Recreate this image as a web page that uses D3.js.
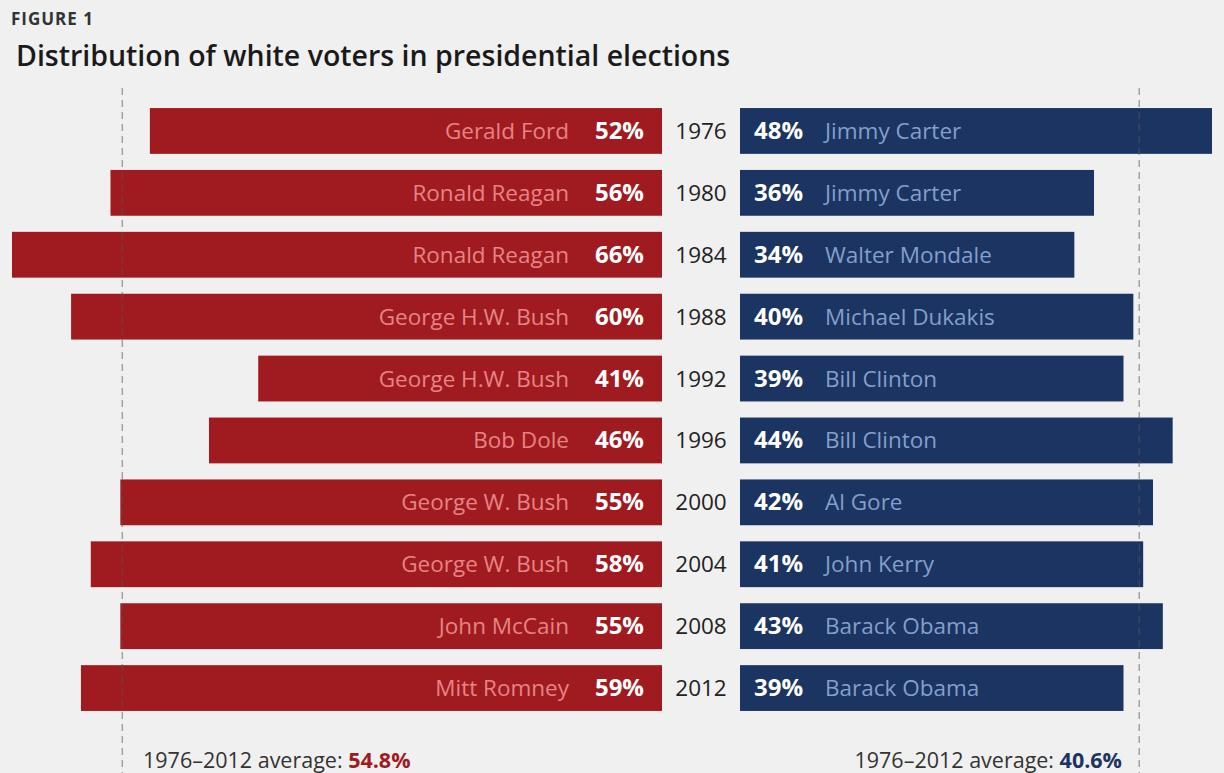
<!DOCTYPE html>
<html>
<head>
<meta charset="utf-8">
<script src="https://cdn.jsdelivr.net/npm/d3@7"></script>
<style>
  body { margin: 0; background: #f0f0f0; }
  svg { display: block; font-family: "Open Sans", "Noto Sans", sans-serif; }
</style>
</head>
<body>
<div id="chart"></div>
<script>
// election data (share of white vote)
const years = [1976, 1980, 1984, 1988, 1992, 1996, 2000, 2004, 2008, 2012];
const repNames = ["Gerald Ford", "Ronald Reagan", "Ronald Reagan", "George H.W. Bush", "George H.W. Bush",
                  "Bob Dole", "George W. Bush", "George W. Bush", "John McCain", "Mitt Romney"];
const repShare = [52, 56, 66, 60, 41, 46, 55, 58, 55, 59];
const demNames = ["Jimmy Carter", "Jimmy Carter", "Walter Mondale", "Michael Dukakis", "Bill Clinton",
                  "Bill Clinton", "Al Gore", "John Kerry", "Barack Obama", "Barack Obama"];
const demShare = [48, 36, 34, 40, 39, 44, 42, 41, 43, 39];
const repAvg = 54.8;
const demAvg = 40.6;

const width = 1224, height = 773;
const red = "#a01b1f", blue = "#1b3462";

const svg = d3.select("#chart").append("svg")
    .attr("width", width)
    .attr("height", height);

svg.append("rect").attr("width", width).attr("height", height).attr("fill", "#f0f0f0");

// titles
svg.append("text")
    .attr("x", 11).attr("y", 25)
    .attr("font-size", 17).attr("font-weight", 700)
    .attr("letter-spacing", 1)
    .attr("fill", "#333")
    .text("FIGURE 1");

svg.append("text")
    .attr("x", 16).attr("y", 66)
    .attr("font-size", 28.5).attr("font-weight", 600)
    .attr("fill", "#1a1a1a")
    .text("Distribution of white voters in presidential elections");

const data = years.map((y, i) => ({
    year: y, rep: repNames[i], repPct: repShare[i], dem: demNames[i], demPct: demShare[i]
}));

// scales: red bars grow leftward from 662, blue rightward from 740
const xRep = d3.scaleLinear().domain([0, 66]).range([662, 12]);
const xDem = d3.scaleLinear().domain([0, 48]).range([740, 1212]);
const y = d3.scaleBand()
    .domain(years)
    .range([100, 719])
    .paddingInner(0.26)
    .paddingOuter(0.13);

const rows = svg.append("g").selectAll("g")
    .data(data)
    .enter().append("g");

rows.append("rect")
    .attr("x", d => xRep(d.repPct))
    .attr("y", d => y(d.year))
    .attr("width", d => xRep(0) - xRep(d.repPct))
    .attr("height", y.bandwidth())
    .attr("fill", red);

rows.append("rect")
    .attr("x", xDem(0))
    .attr("y", d => y(d.year))
    .attr("width", d => xDem(d.demPct) - xDem(0))
    .attr("height", y.bandwidth())
    .attr("fill", blue);

const mid = d => y(d.year) + y.bandwidth() / 2 + 8;

rows.append("text")
    .attr("x", xRep(0) - 18).attr("y", mid)
    .attr("text-anchor", "end")
    .attr("font-size", 24).attr("font-weight", 700)
    .attr("fill", "#fff")
    .text(d => d.repPct + "%");

rows.append("text")
    .attr("x", xRep(0) - 93).attr("y", mid)
    .attr("text-anchor", "end")
    .attr("font-size", 22.5)
    .attr("fill", "#e58486")
    .text(d => d.rep);

rows.append("text")
    .attr("x", (xRep(0) + xDem(0)) / 2).attr("y", mid)
    .attr("text-anchor", "middle")
    .attr("font-size", 22.5)
    .attr("fill", "#222")
    .text(d => d.year);

rows.append("text")
    .attr("x", xDem(0) + 14).attr("y", mid)
    .attr("font-size", 24).attr("font-weight", 700)
    .attr("fill", "#fff")
    .text(d => d.demPct + "%");

rows.append("text")
    .attr("x", xDem(0) + 85).attr("y", mid)
    .attr("font-size", 22.5)
    .attr("fill", "#839fcb")
    .text(d => d.dem);

// average lines
const avgLines = [
    { x: xRep(repAvg), top: 88 },
    { x: xDem(demAvg), top: 88 }
];
svg.selectAll(".avg")
    .data(avgLines)
    .enter().append("line")
    .attr("x1", d => d.x).attr("x2", d => d.x)
    .attr("y1", d => d.top).attr("y2", height)
    .attr("stroke", "#555")
    .attr("stroke-opacity", 0.5)
    .attr("stroke-width", 1.5)
    .attr("stroke-dasharray", "7,5");

// average labels
const leftLbl = svg.append("text")
    .attr("x", 143).attr("y", 768)
    .attr("font-size", 21.5).attr("fill", "#333");
leftLbl.append("tspan").text("1976\u20132012 average: ");
leftLbl.append("tspan").attr("font-weight", 700).attr("fill", red).text(repAvg + "%");

const rightLbl = svg.append("text")
    .attr("x", 1122).attr("y", 768)
    .attr("text-anchor", "end")
    .attr("font-size", 21.5).attr("fill", "#333");
rightLbl.append("tspan").text("1976\u20132012 average: ");
rightLbl.append("tspan").attr("font-weight", 700).attr("fill", blue).text(demAvg + "%");
</script>
</body>
</html>
